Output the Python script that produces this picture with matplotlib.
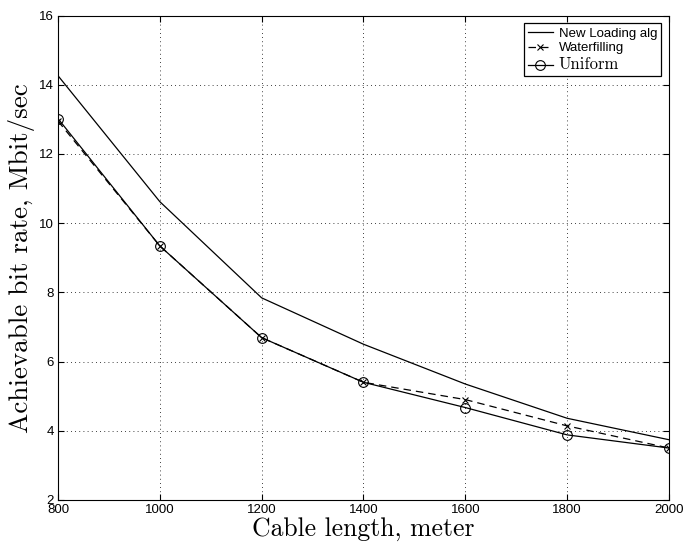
import matplotlib
matplotlib.use("Agg")
import matplotlib.pyplot as plt
import numpy as np

cable_length = [800, 1000, 1200, 1400, 1600, 1800, 2000]
new_loading = [14.26, 10.62, 7.84, 6.50, 5.35, 4.36, 3.74]
waterfilling = [12.95, 9.34, 6.69, 5.40, 4.90, 4.14, 3.50]
uniform = [13.02, 9.34, 6.69, 5.40, 4.67, 3.88, 3.50]

plt.rcParams['font.family'] = ['Liberation Sans', 'DejaVu Sans']

fig = plt.figure(figsize=(6.84, 5.44), dpi=100)
ax = fig.add_axes([0.0848, 0.081, 0.8932, 0.8905])

ax.plot(cable_length, new_loading, color="black", lw=0.9, label="New Loading alg")
ax.plot(cable_length, waterfilling, color="black", lw=0.9, ls=(0, (6, 4)),
        marker="x", ms=5, mew=0.8, label="Waterfilling")
ax.plot(cable_length, uniform, color="black", lw=0.9, marker="o", ms=7,
        mfc="none", mew=0.8, label="Uniform")

ax.set_xlim(800, 2000)
ax.set_ylim(2, 16)
ax.set_xticks(np.arange(800, 2001, 200))
ax.set_yticks(np.arange(2, 17, 2))
ax.tick_params(direction="in", length=4, labelsize=9.5, top=True, right=True, pad=3)
ax.grid(True, color="black", ls=(0, (1, 4)), lw=0.6)
for s in ax.spines.values():
    s.set_linewidth(0.8)

ax.set_xlabel("Cable length, meter", family="cmr10", fontsize=18.5, labelpad=1)
ax.set_ylabel("Achievable bit rate, Mbit/sec", family="cmr10", fontsize=19.5, labelpad=3)

leg = ax.legend(loc="upper right", fontsize=9.5, handlelength=1.9, handletextpad=0.45,
                borderpad=0.3, labelspacing=0.2, fancybox=False, framealpha=1,
                borderaxespad=0.6)
leg.get_frame().set_edgecolor("black")
leg.get_frame().set_linewidth(0.9)
leg.get_texts()[2].set_family("cmr10")
leg.get_texts()[2].set_fontsize(12)

fig.savefig("out.png", dpi=100)
